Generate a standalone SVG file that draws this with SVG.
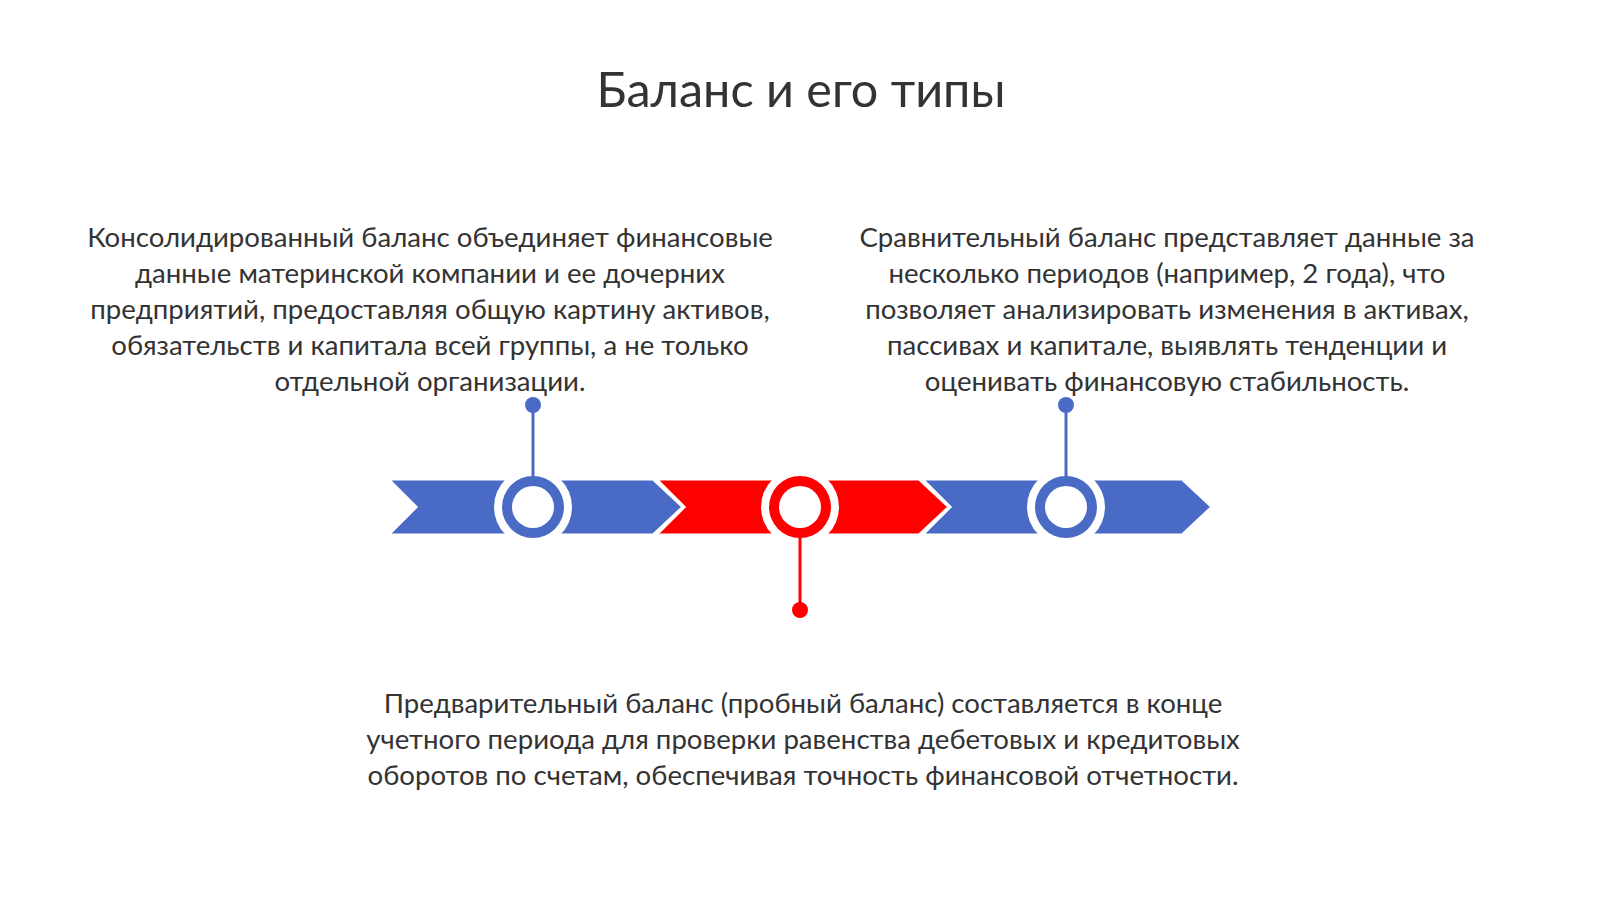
<svg xmlns="http://www.w3.org/2000/svg" width="1600" height="899" viewBox="0 0 1600 899">
<style>
.t{font-family:Lato,"Liberation Sans",sans-serif;fill:#333333;text-anchor:middle}
.title{font-size:48.5px}
.body{font-size:27.6px}
.blue{fill:#4A6BC5}
.red{fill:#FF0000}
.chev{stroke:#FFFFFF;stroke-width:3;stroke-linejoin:miter}
.halo{fill:#FFFFFF}
.inner{fill:#FFFFFF}
</style>
<rect width="1600" height="899" fill="#FFFFFF"/>
<text class="t title" x="801" y="107">Баланс и его типы</text>

<g id="chevrons">
<path class="chev blue" d="M388,479 L653,479 L683,507 L653,535 L388,535 L416,507 Z"/>
<path class="chev red" d="M656,479 L919,479 L949,507 L919,535 L656,535 L684,507 Z"/>
<path class="chev blue" d="M922,479 L1182,479 L1212,507 L1182,535 L922,535 L950,507 Z"/>
</g>

<g id="node1">
<circle cx="533" cy="507" r="39" class="halo"/>
<circle cx="533" cy="507" r="31" class="blue"/>
<circle cx="533" cy="507" r="21" class="inner"/>
<text class="t body" x="430" y="247">Консолидированный баланс объединяет финансовые</text>
<text class="t body" x="430" y="283">данные материнской компании и ее дочерних</text>
<text class="t body" x="430" y="319">предприятий, предоставляя общую картину активов,</text>
<text class="t body" x="430" y="355">обязательств и капитала всей группы, а не только</text>
<text class="t body" x="430" y="391">отдельной организации.</text>
</g>

<g id="node2">
<circle cx="800" cy="507" r="39" class="halo"/>
<circle cx="800" cy="507" r="31" class="red"/>
<circle cx="800" cy="507" r="21" class="inner"/>
<text class="t body" x="803" y="713">Предварительный баланс (пробный баланс) составляется в конце</text>
<text class="t body" x="803" y="749">учетного периода для проверки равенства дебетовых и кредитовых</text>
<text class="t body" x="803" y="785">оборотов по счетам, обеспечивая точность финансовой отчетности.</text>
</g>

<g id="node3">
<circle cx="1066" cy="507" r="39" class="halo"/>
<circle cx="1066" cy="507" r="31" class="blue"/>
<circle cx="1066" cy="507" r="21" class="inner"/>
<text class="t body" x="1167" y="247">Сравнительный баланс представляет данные за</text>
<text class="t body" x="1167" y="283">несколько периодов (например, 2 года), что</text>
<text class="t body" x="1167" y="319">позволяет анализировать изменения в активах,</text>
<text class="t body" x="1167" y="355">пассивах и капитале, выявлять тенденции и</text>
<text class="t body" x="1167" y="391">оценивать финансовую стабильность.</text>
</g>

<g id="connectors">
<line x1="533" y1="405" x2="533" y2="477" stroke="#4A6BC5" stroke-width="3"/>
<circle cx="533" cy="405" r="8" class="blue"/>
<line x1="800" y1="537" x2="800" y2="610" stroke="#FF0000" stroke-width="3"/>
<circle cx="800" cy="610" r="8" class="red"/>
<line x1="1066" y1="405" x2="1066" y2="477" stroke="#4A6BC5" stroke-width="3"/>
<circle cx="1066" cy="405" r="8" class="blue"/>
</g>
</svg>
